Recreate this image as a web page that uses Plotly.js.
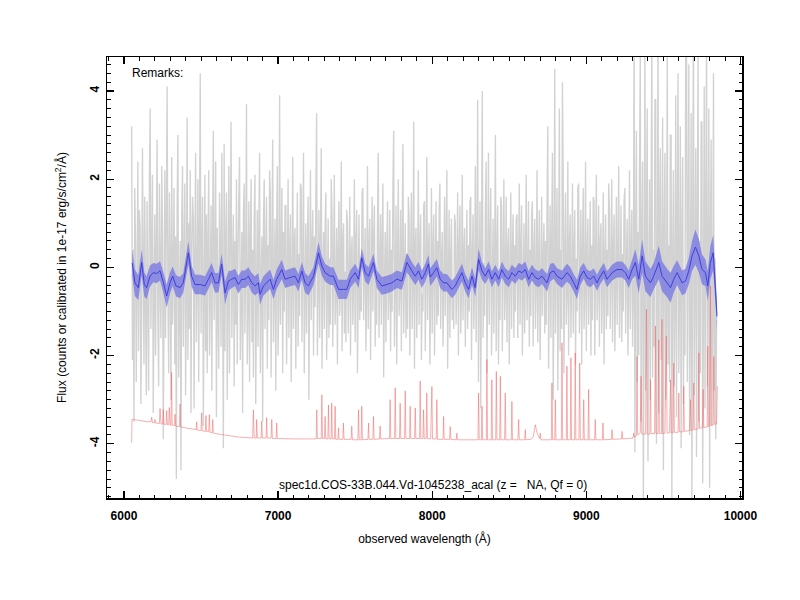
<!DOCTYPE html>
<html>
<head>
<meta charset="utf-8">
<script src="https://cdn.plot.ly/plotly-3.0.1.min.js"></script>
<style>html,body{margin:0;padding:0;background:#fff;}#chart{width:800px;height:600px;}</style>
</head>
<body>
<div id="chart"></div>
<script>
// ---- Gray: observed spectrum (flux), sampled every 5 A starting at 6050 A ----
const grayStartWl = 6050;
const grayStepWl = 5;
const grayFlux = [
 3.2,-2.1,0.4,-3.5,1.8,0.6,-2.6,-0.4,2.4,-1.9,1.3,0.9,-3.1,-1.0,2.7,0.2,-2.2,1.6,-0.8,-2.9,
 1.5,-0.6,-2.8,2.0,3.6,-1.4,0.3,2.1,-3.3,-0.9,1.2,-2.0,0.5,2.9,-1.1,-2.7,1.9,-0.2,-1.6,2.3,
 0.8,-3.9,-1.2,2.2,-1.6,1.0,4.1,-0.5,-2.4,1.7,0.1,-3.0,2.5,-1.3,-0.3,1.8,-2.2,0.7,-4.8,1.4,
 3.0,-2.5,-0.7,0.6,-4.6,1.1,2.3,-1.8,0.2,1.9,-2.9,-0.6,3.4,-2.1,1.0,-1.4,2.2,-3.3,0.5,1.6,
 1.1,-3.2,0.4,2.6,-1.7,-0.2,2.0,-2.6,0.9,4.4,-1.5,0.3,1.6,-3.6,-0.8,2.1,-1.9,1.2,-2.4,0.6,
 2.2,-2.0,-0.4,1.4,-2.8,0.8,3.1,-1.2,-0.1,2.4,-3.4,0.9,-1.0,-2.3,1.7,0.4,-1.8,2.6,-0.6,-4.1,
 2.8,-1.9,0.5,1.7,-3.0,-0.7,2.3,-2.4,1.0,3.3,-1.6,-0.2,1.2,-2.7,0.6,-1.3,2.0,-2.2,0.3,1.5,
 2.5,-2.1,-0.5,0.8,-3.3,1.2,1.9,-1.5,0.0,3.7,-2.2,-0.9,1.5,-2.6,0.7,2.0,-1.7,0.4,-2.5,1.1,
 2.1,-3.1,-0.6,1.3,-1.8,0.9,2.6,-2.4,-0.3,0.7,-3.5,1.0,2.0,-1.4,0.2,1.6,-2.3,0.5,-1.2,2.2,
 1.6,-2.5,0.3,2.9,-1.7,-0.4,1.1,-2.8,0.6,2.3,-2.0,-0.7,3.9,-1.3,0.1,1.8,-2.4,0.8,-1.0,1.4,
 1.4,-2.2,-0.3,2.0,-1.6,0.4,1.2,-2.6,-0.5,2.5,-1.4,0.6,0.9,-2.3,-0.1,1.7,-1.8,0.3,-1.1,1.9,
 1.8,-1.7,0.2,2.6,-2.4,-0.6,1.0,-1.5,0.5,1.6,-3.0,-0.2,2.2,-1.2,0.4,1.3,-2.0,0.7,-0.9,1.5,
 3.5,-2.0,-0.4,1.3,-1.6,0.6,2.7,-2.3,-0.1,0.8,-1.4,0.9,1.7,-2.1,-0.5,1.1,-1.6,0.2,-1.3,2.0,
 1.2,-1.8,0.1,2.1,-1.3,-0.6,0.9,-2.2,0.4,1.5,-1.1,-0.3,2.4,-1.9,0.6,1.0,-1.5,-0.1,-1.7,1.3,
 1.0,-1.5,-0.2,1.6,-2.0,0.3,0.7,-1.3,-0.4,2.0,-1.7,0.5,1.3,-2.4,-0.6,1.2,-1.2,0.2,-1.0,1.7,
 1.8,-1.2,0.0,0.9,-1.9,-0.5,2.3,-1.4,0.4,1.1,-2.1,-0.2,1.6,-1.0,0.6,1.4,-1.8,-0.3,-1.3,1.0,
 2.6,-1.6,-0.1,1.2,-1.3,0.5,1.9,-2.5,-0.4,0.8,-1.7,0.3,1.5,-1.2,-0.6,1.3,-1.9,0.4,-1.0,1.8,
 3.1,-1.8,-0.3,1.4,-2.2,0.2,2.0,-1.1,-0.5,1.3,-1.9,0.6,2.8,-1.5,-0.2,1.0,-1.6,0.3,-1.4,1.6,
 1.1,-2.0,0.2,1.7,-1.4,-0.4,3.3,-2.3,0.5,0.9,-1.6,-0.1,2.2,-1.3,0.4,1.2,-2.1,-0.6,-1.0,1.4,
 1.5,-1.9,-0.2,2.5,-1.2,0.3,1.0,-2.2,-0.5,1.8,-1.5,0.4,1.2,-2.0,-0.1,1.5,-1.3,0.6,-1.1,1.3,
 1.9,-1.4,0.1,0.8,-1.8,-0.4,1.6,-1.1,0.5,2.2,-2.3,-0.3,1.3,-1.6,0.2,1.1,-1.2,-0.5,-1.4,1.2,
 1.0,-1.3,-0.2,1.7,-2.0,0.4,1.4,-1.5,-0.6,2.1,-1.2,0.3,0.9,-1.8,-0.1,1.3,-1.4,0.5,-1.0,1.5,
 1.6,-2.1,0.2,1.2,-1.4,-0.5,2.3,-1.7,0.4,3.8,-2.6,-0.2,1.5,-3.2,0.6,4.0,-1.6,0.1,-1.1,1.3,
 2.4,-2.4,-0.3,2.6,-1.3,0.5,1.8,-2.0,-0.4,1.1,-1.5,0.2,3.0,-1.9,0.3,1.4,-2.2,-0.2,-1.2,1.6,
 1.4,-1.9,0.1,2.0,-1.2,-0.5,1.6,-1.7,0.4,0.9,-2.2,-0.1,1.7,-1.4,0.3,1.2,-1.6,0.5,-1.0,1.1,
 1.2,-1.6,-0.2,1.9,-1.3,0.4,1.4,-2.0,-0.6,1.0,-1.5,0.2,2.1,-1.2,-0.3,1.5,-1.8,0.4,-1.1,1.2,
 1.5,-1.8,0.3,1.1,-1.4,-0.4,2.2,-1.7,0.1,1.3,-2.1,-0.5,1.6,-1.1,0.2,1.0,-1.5,0.6,-1.3,1.4,
 3.2,-2.3,-0.2,1.4,-1.6,0.5,2.6,-3.0,-0.6,4.5,-1.5,0.3,1.8,-2.8,-0.1,3.6,-1.9,0.4,-1.4,4.2,
 2.0,-2.4,0.3,1.7,-1.3,-0.6,2.4,-2.0,0.5,1.2,-1.6,-0.2,1.9,-1.5,0.4,1.3,-2.2,0.2,-1.0,1.8,
 1.9,-1.5,-0.1,1.3,-2.2,0.4,1.8,-1.4,-0.5,2.4,-1.9,0.3,1.1,-1.3,-0.2,1.5,-2.0,0.5,-1.2,1.6,
 1.5,-2.0,0.2,2.1,-1.2,-0.4,1.4,-1.8,0.6,1.0,-1.5,-0.3,1.7,-2.2,0.1,1.2,-1.4,0.4,-1.1,1.9,
 1.3,-1.4,-0.2,2.0,-1.7,0.5,1.2,-1.9,-0.4,1.6,-1.3,0.2,2.3,-1.6,-0.5,1.4,-1.7,0.3,-1.0,1.5,
 1.8,-1.5,0.1,1.1,-2.0,-0.3,2.2,-1.4,0.4,1.3,-1.8,-0.6,5.5,-4.2,0.3,3.1,-2.6,0.8,-2.0,2.4,
 4.8,-3.5,0.6,2.4,-5.5,-1.0,5.2,-2.8,0.9,3.6,-4.4,-0.5,2.0,-3.0,1.2,5.4,-2.5,0.4,-1.8,3.8,
 3.8,-4.0,-0.7,5.6,-3.3,1.1,2.7,-2.1,-0.4,3.4,-4.6,0.8,2.6,-3.0,-1.2,4.9,-2.2,0.5,-2.6,3.0,
 3.0,-5.3,0.2,2.2,-2.7,-0.9,3.9,-3.4,1.0,4.4,-2.4,-0.6,3.2,-4.1,0.7,2.5,-3.1,-0.3,-2.0,5.7,
 5.7,-2.6,0.4,4.6,-3.8,-1.1,3.5,-5.4,0.9,5.9,-2.9,-0.2,2.7,-4.3,1.3,4.8,-3.5,0.6,-2.4,3.3,
 3.3,-4.9,-0.8,4.1,-3.2,1.0,5.3,-2.7,-0.5,3.6,-5.0,0.7,2.9,-3.6,-1.3,4.4,-2.8,0.2,-3.9,-1.2
];

// ---- Blue: smoothed spectrum and its uncertainty ----
const blueWl = [
 6054,6071,6093,6115,6132,6147,6169,6191,6212,6234,
 6256,6277,6299,6316,6338,6364,6385,6418,6439,6461,
 6494,6526,6548,6569,6591,6613,6634,6656,6678,6699,
 6721,6742,6764,6786,6807,6829,6851,6872,6883,6905,
 6926,6948,6970,6991,7024,7046,7078,7110,7132,7154,
 7175,7197,7230,7262,7284,7305,7338,7359,7392,7424,
 7446,7468,7500,7522,7543,7565,7587,7619,7641,7673,
 7706,7738,7771,7803,7836,7868,7890,7911,7933,7955,
 7976,
 7987,8009,8030,8052,8074,8095,8128,8149,8171,8193,
 8214,8236,8258,8279,8301,8323,8344,8366,8387,8409,
 8431,8452,8474,8496,8517,8539,8561,8582,8604,8626,
 8647,8669,8690,8712,8745,8766,8788,8810,8842,8875,
 8896,8918,8939,8961,8983,9004,9026,9048,9069,9091,
 9113,9134,9167,9199,9232,9253,9275,9297,9318,9340,
 9362,9383,9416,9437,9470,9491,9524,9546,9567,9589,
 9621,9643,9665,9686,9708,9730,9751,9773,9788,9805,
 9823,9838,9848
];
const blueFlux = [
 0.10,-0.35,-0.46,0.11,-0.39,-0.46,-0.20,-0.12,-0.14,-0.08,
 -0.35,-0.65,-0.35,-0.20,-0.42,-0.46,-0.35,0.33,-0.20,-0.39,
 -0.39,-0.42,-0.27,-0.12,-0.35,-0.35,0.07,-0.58,-0.31,-0.27,
 -0.23,-0.39,-0.27,-0.27,-0.20,-0.35,-0.42,-0.35,-0.61,-0.42,
 -0.35,-0.27,-0.50,-0.27,-0.05,-0.27,-0.23,-0.20,-0.35,-0.08,
 -0.35,-0.42,-0.20,0.33,0.03,-0.12,-0.20,-0.20,-0.50,-0.50,
 -0.50,-0.27,-0.12,-0.27,0.22,-0.12,-0.20,0.11,-0.27,-0.42,
 -0.39,-0.35,-0.27,-0.31,0.11,-0.08,-0.20,-0.08,-0.27,-0.12,
 0.08,
 -0.22,-0.12,-0.01,-0.27,-0.35,-0.35,-0.50,-0.42,-0.27,-0.12,
 -0.35,-0.50,-0.20,-0.46,0.18,-0.08,-0.20,-0.05,-0.27,-0.12,
 -0.27,-0.05,-0.20,-0.27,-0.12,-0.20,-0.08,-0.12,-0.05,-0.27,
 -0.12,-0.23,-0.27,-0.20,-0.35,-0.12,-0.08,-0.20,-0.27,-0.12,
 -0.20,-0.35,-0.50,-0.20,-0.08,-0.23,-0.27,-0.20,-0.35,-0.20,
 -0.08,-0.27,-0.12,-0.05,-0.05,-0.12,-0.27,-0.05,0.11,-0.27,
 0.26,-0.20,-0.35,-0.20,0.11,-0.20,-0.35,-0.46,-0.27,-0.12,
 -0.35,-0.31,-0.08,0.26,0.46,0.26,-0.05,-0.12,-0.42,0.11,
 0.33,-0.50,-1.11
];
const blueErr = [
 0.30,0.30,0.28,0.30,0.27,0.26,0.24,0.22,0.22,0.22,
 0.24,0.26,0.24,0.22,0.24,0.24,0.22,0.26,0.24,0.22,
 0.22,0.22,0.22,0.22,0.22,0.22,0.24,0.26,0.22,0.20,
 0.20,0.20,0.20,0.20,0.20,0.22,0.22,0.22,0.24,0.22,
 0.22,0.22,0.22,0.22,0.22,0.20,0.20,0.20,0.20,0.20,
 0.22,0.22,0.20,0.24,0.22,0.20,0.20,0.20,0.22,0.22,
 0.22,0.20,0.20,0.20,0.22,0.20,0.20,0.20,0.20,0.20,
 0.20,0.20,0.20,0.20,0.22,0.20,0.20,0.20,0.20,0.20,
 0.20,
 0.20,0.20,0.20,0.20,0.20,0.20,0.20,0.20,0.20,0.20,
 0.20,0.20,0.20,0.20,0.24,0.20,0.18,0.18,0.18,0.18,
 0.18,0.18,0.18,0.18,0.18,0.18,0.18,0.18,0.18,0.18,
 0.18,0.18,0.18,0.18,0.20,0.20,0.18,0.18,0.20,0.20,
 0.20,0.20,0.22,0.20,0.18,0.18,0.18,0.18,0.18,0.18,
 0.18,0.18,0.18,0.18,0.18,0.18,0.20,0.22,0.30,0.32,
 0.38,0.34,0.32,0.30,0.38,0.34,0.32,0.34,0.30,0.28,
 0.28,0.28,0.30,0.34,0.40,0.38,0.34,0.30,0.34,0.38,
 0.40,0.35,0.30
];

// ---- Red: noise / sky spectrum ----
const redWl = [
 6050,6052,6100,6150,6175,6180,6185,6200,6201,6205,6230,6234,6240,6252,6255,6260,6274,6277,6282,6290,
 6294,6300,6305,6309,6313,6328,6331,6336,6360,6364,6368,6400,6468,6472,6476,6500,6504,6508,6528,6532,
 6536,6550,6554,6558,6572,6576,6580,6650,6750,6835,6840,6845,6858,6861,6865,6890,6894,6898,6922,6926,
 6930,6955,6959,6963,6987,6991,6995,7100,7200,7247,7251,7255,7280,7284,7288,7301,7305,7309,7323,7327,
 7331,7344,7348,7352,7366,7370,7374,7388,7392,7396,7420,7424,7428,7474,7478,7482,7518,7522,7526,7539,
 7543,7547,7583,7587,7591,7615,7619,7623,7658,7662,7666,7723,7727,7731,7756,7760,7764,7788,7792,7796,
 7821,7825,7829,7853,7857,7861,7886,7890,7894,7918,7922,7926,7940,7944,7948,7961,7965,7969,7990,7998,
 8002,8026,8030,8034,8070,8074,8078,8113,8117,8121,8156,8160,8164,8297,8301,8305,8319,8323,8327,8351,
 8355,8359,8383,8387,8391,8412,8416,8420,8438,8442,8446,8470,8474,8478,8513,8517,8521,8556,8561,8565,
 8600,8604,8608,8640,8655,8669,8680,8697,8701,8705,8773,8777,8781,8795,8799,8803,8838,8842,8846,8870,
 8874,8878,8896,8900,8904,8924,8928,8932,8952,8957,8961,8979,8983,8987,9011,9015,9019,9054,9058,9062,
 9104,9108,9112,9163,9167,9171,9228,9232,9236,9303,9307,9311,9325,9329,9333,9350,9355,9360,9385,9390,
 9395,9412,9416,9420,9443,9448,9452,9465,9470,9474,9487,9491,9495,9510,9519,9524,9540,9546,9550,9563,
 9567,9571,9595,9600,9604,9628,9632,9636,9671,9676,9680,9693,9697,9701,9725,9730,9734,9753,9758,9762,
 9784,9788,9792,9800,9805,9810,9823,9827,9831,9845,9850
];
const redFlux = [
 -3.98,-3.45,-3.47,-3.50,-3.50,-3.40,-3.52,-3.52,-3.45,-3.53,-3.54,-3.20,-3.55,-3.55,-3.22,-3.56,-3.56,-3.25,-3.57,-3.57,
 -3.18,-3.58,-3.58,-2.38,-3.58,-3.59,-3.33,-3.60,-3.61,-3.10,-3.62,-3.64,-3.68,-3.50,-3.69,-3.70,-3.30,-3.71,-3.72,-3.36,
 -3.72,-3.73,-3.34,-3.74,-3.75,-3.45,-3.76,-3.80,-3.85,-3.87,-3.23,-3.87,-3.87,-3.45,-3.87,-3.87,-3.49,-3.87,-3.87,-3.41,
 -3.87,-3.87,-3.45,-3.88,-3.88,-3.53,-3.88,-3.89,-3.89,-3.89,-3.23,-3.88,-3.88,-2.89,-3.88,-3.88,-3.38,-3.89,-3.89,-3.12,
 -3.89,-3.89,-3.08,-3.89,-3.89,-3.15,-3.90,-3.90,-3.64,-3.90,-3.90,-3.53,-3.90,-3.90,-3.60,-3.91,-3.91,-3.23,-3.91,-3.91,
 -3.15,-3.91,-3.90,-3.53,-3.90,-3.90,-3.38,-3.90,-3.89,-3.60,-3.89,-3.88,-3.00,-3.88,-3.88,-2.73,-3.88,-3.88,-3.08,-3.88,
 -3.88,-2.80,-3.88,-3.88,-3.15,-3.88,-3.88,-3.19,-3.88,-3.88,-2.58,-3.88,-3.88,-3.23,-3.88,-3.88,-2.85,-3.88,-3.89,-2.70,
 -3.89,-3.89,-3.00,-3.90,-3.90,-3.38,-3.90,-3.90,-3.61,-3.90,-3.91,-3.76,-3.91,-3.91,-2.85,-3.91,-3.91,-3.15,-3.91,-3.91,
 -2.09,-3.91,-3.91,-2.55,-3.91,-3.91,-2.36,-3.91,-3.91,-2.47,-3.91,-3.91,-2.85,-3.91,-3.91,-3.04,-3.91,-3.91,-3.45,-3.91,
 -3.91,-3.68,-3.91,-3.90,-3.85,-3.57,-3.75,-3.88,-3.76,-3.91,-3.91,-2.62,-3.91,-3.91,-3.00,-3.91,-3.91,-1.71,-3.91,-3.91,
 -2.24,-3.91,-3.91,-2.05,-3.91,-3.91,-1.94,-3.91,-3.91,-2.17,-3.91,-3.91,-3.00,-3.91,-3.91,-2.77,-3.91,-3.91,-3.45,-3.91,
 -3.91,-3.53,-3.91,-3.90,-3.68,-3.90,-3.89,-3.72,-3.89,-3.87,-3.76,-3.85,-3.82,-2.02,-3.80,-3.75,-2.47,-3.78,-3.78,-0.95,
 -3.78,-3.78,-2.55,-3.77,-3.77,-1.33,-3.77,-3.77,-1.64,-3.77,-3.77,-1.18,-3.77,-3.76,-1.56,-3.76,-3.75,-2.55,-3.75,-3.75,
 -2.17,-3.74,-3.74,-2.85,-3.73,-3.73,-2.70,-3.72,-3.70,-3.00,-3.70,-3.68,-2.62,-3.68,-3.66,-1.94,-3.65,-3.64,-2.77,-3.63,
 -3.62,-1.79,-3.61,-3.60,-0.42,-3.58,-3.57,-2.02,-3.56,-3.55,-2.70
];

// ---- Text ----
const xTitle = 'observed wavelength (Å)';
const yTitle = 'Flux (counts or calibrated in 1e-17 erg/s/cm<sup>2</sup>/Å)';
const remarksText = 'Remarks:';
const specLabel = 'spec1d.COS-33B.044.Vd-1045238_acal (z =\u00a0\u00a0\u00a0NA, Qf = 0)';

const grayWl = grayFlux.map((_, i) => grayStartWl + i * grayStepWl);
const blueLow = blueFlux.map((v, i) => v - blueErr[i]);
const blueHigh = blueFlux.map((v, i) => v + blueErr[i]);

const traces = [
  {x: grayWl, y: grayFlux, type: 'scatter', mode: 'lines',
   line: {color: 'rgb(210,210,210)', width: 1.35, simplify: false}, hoverinfo: 'skip'},
  {x: redWl, y: redFlux, type: 'scatter', mode: 'lines',
   line: {color: 'rgba(240,100,100,0.65)', width: 0.8, simplify: false}, hoverinfo: 'skip'},
  {x: blueWl, y: blueLow, type: 'scatter', mode: 'lines',
   line: {width: 0, color: 'rgba(0,0,0,0)', simplify: false}, hoverinfo: 'skip'},
  {x: blueWl, y: blueHigh, type: 'scatter', mode: 'lines', fill: 'tonexty',
   fillcolor: 'rgba(95,95,230,0.62)', line: {width: 0, color: 'rgba(0,0,0,0)', simplify: false}, hoverinfo: 'skip'},
  {x: blueWl, y: blueFlux, type: 'scatter', mode: 'lines',
   line: {color: 'rgb(55,55,220)', width: 0.9, simplify: false}, hoverinfo: 'skip'}
];

const tickFont = {family: 'Liberation Sans, Arial, sans-serif', size: 12, color: '#000', weight: 'bold'};
const layout = {
  width: 800, height: 600,
  margin: {l: 107, r: 58, t: 57, b: 102},
  paper_bgcolor: '#fff', plot_bgcolor: '#fff',
  showlegend: false,
  font: {family: 'Liberation Sans, Arial, sans-serif', size: 12, color: '#000'},
  xaxis: {
    range: [5890, 10010], showgrid: false, zeroline: false,
    showline: true, linecolor: '#000', linewidth: 1.5, mirror: 'allticks',
    ticks: 'inside', ticklen: 7, tickwidth: 1.2, tickcolor: '#000',
    tickvals: [6000, 7000, 8000, 9000, 10000],
    ticktext: ['6000', '7000', '8000', '9000', '10000'],
    tickfont: tickFont, ticklabelstandoff: 6,
    minor: {dtick: 100, tick0: 6000, ticks: 'inside', ticklen: 3.5, tickwidth: 1, tickcolor: '#000', showgrid: false},
    title: {text: xTitle, font: {size: 12}, standoff: 12}
  },
  yaxis: {
    range: [-5.23, 4.77], showgrid: false, zeroline: false,
    showline: true, linecolor: '#000', linewidth: 1.5, mirror: 'allticks',
    ticks: 'inside', ticklen: 7, tickwidth: 1.2, tickcolor: '#000',
    tickvals: [-4, -2, 0, 2, 4],
    ticktext: ['-4', '-2', '0', '2', '4'],
    tickangle: -90, tickfont: tickFont, ticklabelstandoff: 2,
    minor: {dtick: 0.2, tick0: 0, ticks: 'inside', ticklen: 3.5, tickwidth: 1, tickcolor: '#000', showgrid: false},
    title: {text: yTitle, font: {size: 12}, standoff: 18}
  },
  annotations: [
    {xref: 'paper', yref: 'paper', x: 0.037, y: 0.964, xanchor: 'left', yanchor: 'middle',
     text: remarksText, showarrow: false, font: {size: 12}},
    {xref: 'paper', yref: 'paper', x: 0.514, y: 0.03, xanchor: 'center', yanchor: 'middle',
     text: specLabel, showarrow: false, font: {size: 12}}
  ]
};

Plotly.newPlot('chart', traces, layout, {displayModeBar: false, staticPlot: true});
</script>
</body>
</html>
